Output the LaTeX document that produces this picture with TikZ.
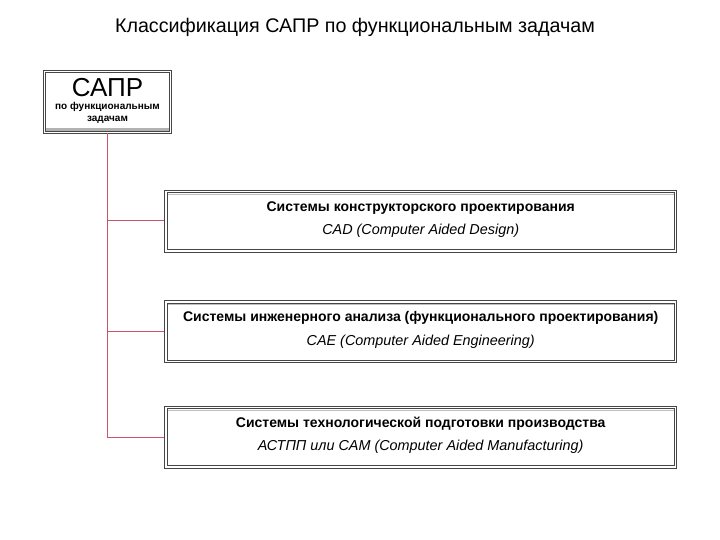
\documentclass[tikz,border=0pt]{standalone}
\usepackage{fontspec}
\setmainfont{Liberation Sans}
\usetikzlibrary{positioning}
\definecolor{linkred}{RGB}{200,85,105}
\definecolor{framegray}{RGB}{70,70,70}
\tikzset{
  framebox/.style={draw=framegray, line width=0.9pt, fill=white, inner sep=0pt},
  innerframe/.style={draw=framegray, line width=0.8pt},
  sysbox/.style={framebox, minimum width=512pt, minimum height=62pt},
  systext/.style={align=center, font=\fontsize{14}{23.5}\selectfont},
  link/.style={draw=linkred, line width=1pt}
}

\begin{document}
\begin{tikzpicture}[x=1pt, y=-1pt]
  \useasboundingbox (0,0) rectangle (720,540);

  % title
  \node (title) at (355,27) {\fontsize{19.7}{22}\selectfont Классификация САПР по функциональным задачам};

  % root box
  \node[framebox, minimum width=128pt, minimum height=63pt] (sapr) at (107.5,101.5) {};
  \fill[black!30] ([shift={(2.5,-5)}]sapr.south west) rectangle ([shift={(-2.5,-2.5)}]sapr.south east);
  \draw[innerframe] ([shift={(2.5,2.5)}]sapr.north west) rectangle ([shift={(-2.5,-2.5)}]sapr.south east);
  \node (saprname) at (107.5,88) {\fontsize{26}{26}\selectfont САПР};
  \node[font=\bfseries\fontsize{10}{12.6}\selectfont, align=center] (saprsub) at (107.5,113)
    {по функциональным\\задачам};

  % system boxes
  \node[sysbox] (cad) at (420.7,221) {};
  \node[sysbox] (cae) at (420.7,331.5) {};
  \node[sysbox] (cam) at (420.7,437) {};
  \foreach \b in {cad,cae,cam} {
    \draw[innerframe] ([shift={(3,3)}]\b.north west) rectangle ([shift={(-3,-3)}]\b.south east);
    \draw[black!25, line width=0.8pt] ([shift={(3.5,4.5)}]\b.north west) -- ([shift={(-3.5,4.5)}]\b.north east);
  }

  \node[systext] (cadtext) at (420.7,219.5)
    {\textbf{Системы конструкторского проектирования}\\
     {\fontsize{14.4}{23.5}\selectfont\itshape CAD (Computer Aided Design)}};
  \node[systext] (caetext) at (420.7,330)
    {\textbf{Системы инженерного анализа (функционального проектирования)}\\
     {\fontsize{14.4}{23.5}\selectfont\itshape CAE (Computer Aided Engineering)}};
  \node[systext] (camtext) at (420.7,435.5)
    {\textbf{Системы технологической подготовки производства}\\
     {\fontsize{14.4}{23.5}\selectfont\itshape АСТПП или CAM (Computer Aided Manufacturing)}};

  % connectors
  \draw[link] (sapr.south) |- (cad.west);
  \draw[link] (sapr.south) |- (cae.west);
  \draw[link] (sapr.south) |- (cam.west);
\end{tikzpicture}
\end{document}
